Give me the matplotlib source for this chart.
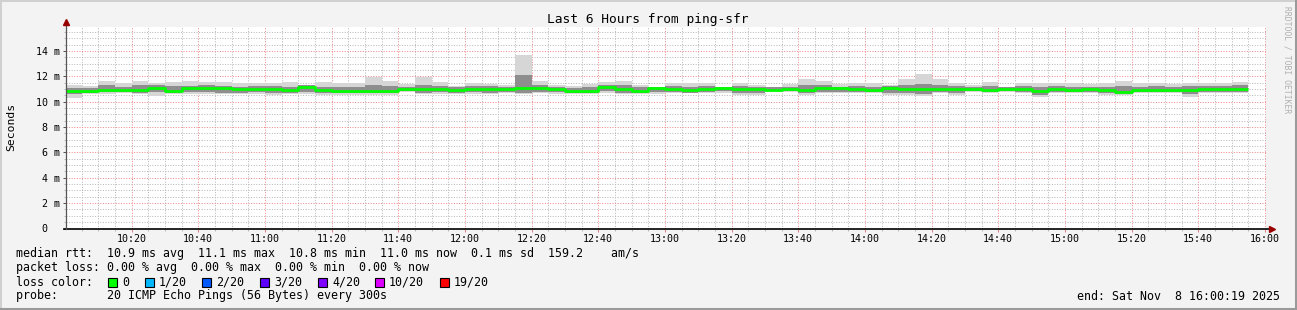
import matplotlib
matplotlib.use("Agg")
import matplotlib.pyplot as plt
from matplotlib.patches import Rectangle
from matplotlib.lines import Line2D

# 5-minute steps starting at 10:00 (minutes after 10:00), values in ms
median = [10.85, 10.85, 10.96, 10.96, 10.96, 11.06, 10.88, 11.06, 11.06, 11.06, 10.98, 10.98,
          10.98, 10.96, 11.17, 10.93, 10.88, 10.88, 10.88, 10.88, 11.03, 11.03, 11.03, 10.93,
          10.98, 10.98, 10.98, 11.06, 11.06, 10.98, 10.83, 10.88, 11.17, 11.04, 10.88, 11.06,
          11.03, 10.93, 10.98, 11.06, 10.98, 10.98, 10.93, 10.98, 10.90, 11.06, 11.06, 10.98,
          10.93, 11.09, 11.03, 11.03, 11.03, 11.03, 11.03, 10.93, 11.03, 10.98, 10.85, 11.03,
          10.93, 10.98, 10.93, 10.80, 10.93, 10.93, 10.93, 10.93, 11.03, 11.03, 11.03]
ping_max = [11.32, 11.25, 11.66, 11.46, 11.66, 11.50, 11.59, 11.62, 11.55, 11.55, 11.50, 11.50,
            11.50, 11.59, 11.33, 11.59, 11.50, 11.50, 11.93, 11.66, 11.40, 11.93, 11.59, 11.25,
            11.46, 11.40, 11.33, 13.70, 11.64, 11.33, 11.25, 11.40, 11.59, 11.64, 11.33, 11.19,
            11.46, 11.50, 11.50, 11.19, 11.52, 11.33, 11.19, 11.40, 11.78, 11.66, 11.40, 11.50,
            11.50, 11.33, 11.80, 12.19, 11.78, 11.50, 11.33, 11.59, 11.19, 11.50, 11.46, 11.50,
            11.50, 11.40, 11.46, 11.66, 11.46, 11.50, 11.40, 11.50, 11.50, 11.46, 11.59]
ping_min = [10.32, 10.59, 10.59, 10.67, 10.59, 10.46, 10.59, 10.59, 10.59, 10.59, 10.59, 10.59,
            10.54, 10.59, 10.59, 10.54, 10.54, 10.54, 10.54, 10.54, 10.80, 10.59, 10.59, 10.59,
            10.59, 10.59, 10.72, 10.59, 10.72, 10.65, 10.59, 10.59, 10.72, 10.59, 10.59, 10.59,
            10.67, 10.67, 10.67, 10.72, 10.54, 10.54, 10.80, 10.80, 10.54, 10.67, 10.67, 10.67,
            10.67, 10.54, 10.54, 10.47, 10.67, 10.54, 10.80, 10.67, 10.80, 10.67, 10.35, 10.67,
            10.67, 10.67, 10.54, 10.54, 10.67, 10.67, 10.67, 10.40, 10.72, 10.72, 10.72]
ping_q3 = [11.10, 11.10, 11.30, 11.20, 11.35, 11.30, 11.25, 11.25, 11.30, 11.25, 11.20, 11.25,
           11.25, 11.20, 11.30, 11.20, 11.15, 11.15, 11.30, 11.25, 11.20, 11.35, 11.25, 11.15,
           11.25, 11.25, 11.20, 12.10, 11.35, 11.15, 11.10, 11.20, 11.35, 11.30, 11.15, 11.15,
           11.25, 11.20, 11.25, 11.15, 11.25, 11.15, 11.15, 11.20, 11.30, 11.30, 11.20, 11.25,
           11.20, 11.25, 11.30, 11.40, 11.30, 11.25, 11.15, 11.25, 11.15, 11.25, 11.20, 11.25,
           11.20, 11.20, 11.20, 11.25, 11.20, 11.25, 11.20, 11.25, 11.25, 11.25, 11.30]
ping_q1 = [10.62, 10.70, 10.75, 10.75, 10.72, 10.75, 10.72, 10.75, 10.78, 10.72, 10.72, 10.75,
           10.70, 10.72, 10.75, 10.70, 10.70, 10.70, 10.68, 10.68, 10.88, 10.72, 10.75, 10.72,
           10.75, 10.72, 10.80, 10.70, 10.80, 10.75, 10.68, 10.70, 10.85, 10.72, 10.72, 10.75,
           10.75, 10.72, 10.75, 10.82, 10.70, 10.70, 10.85, 10.85, 10.70, 10.78, 10.78, 10.75,
           10.75, 10.70, 10.70, 10.65, 10.80, 10.70, 10.88, 10.75, 10.85, 10.75, 10.55, 10.80,
           10.75, 10.75, 10.70, 10.65, 10.75, 10.75, 10.75, 10.62, 10.80, 10.80, 10.80]

x_labels = ["10:20", "10:40", "11:00", "11:20", "11:40", "12:00", "12:20", "12:40", "13:00",
            "13:20", "13:40", "14:00", "14:20", "14:40", "15:00", "15:20", "15:40", "16:00"]
y_labels = ["0  ", "2 m", "4 m", "6 m", "8 m", "10 m", "12 m", "14 m"]

rtt_line = "median rtt:  10.9 ms avg  11.1 ms max  10.8 ms min  11.0 ms now  0.1 ms sd  159.2    am/s"
loss_line = "packet loss: 0.00 % avg  0.00 % max  0.00 % min  0.00 % now"
probe_line = "probe:       20 ICMP Echo Pings (56 Bytes) every 300s"
end_line = "end: Sat Nov  8 16:00:19 2025"
loss_labels = ["0", "1/20", "2/20", "3/20", "4/20", "10/20", "19/20"]
loss_colors = ["#00ff00", "#00b8ff", "#0059ff", "#5e00ff", "#7e00ff", "#dd00ff", "#ff0000"]

W, H = 1297, 310
MONO = "DejaVu Sans Mono"
FS = 8.35

fig = plt.figure(figsize=(W / 100, H / 100), dpi=100, facecolor="#f3f3f3")


def fx(px):
    return px / W


def fy(py):
    return 1 - py / H


ax = fig.add_axes([fx(66), fy(228.5), 1200 / W, 201.5 / H])
ax.set_facecolor("white")
ax.set_xlim(19 / 60, 360 + 19 / 60)
ax.set_ylim(0, 15.9)
for s in ax.spines.values():
    s.set_visible(False)

# grid (dotted, rrdtool style)
dot = (0, (1, 1.6))
ax.set_xticks([20 * (i + 1) for i in range(len(x_labels))])
ax.set_xticks([5 * i for i in range(1, 73)], minor=True)
ax.set_yticks([2 * i for i in range(len(y_labels))])
ax.set_yticks([0.5 * i for i in range(1, 32)], minor=True)
ax.set_axisbelow(True)
ax.grid(which="minor", color="#b8b8b8", linestyle=dot, linewidth=0.72)
ax.grid(which="major", color="#f08a8a", linestyle=dot, linewidth=0.72)

ax.set_xticklabels(x_labels, fontfamily=MONO, fontsize=7.2)
ax.set_yticklabels(y_labels, fontfamily=MONO, fontsize=7.2)
ax.tick_params(which="major", length=2.2, width=0.72, color="#e08080", pad=1.6)
ax.tick_params(which="minor", length=1.5, width=0.72, color="#bbbbbb")
ax.tick_params(axis="y", which="major", pad=2.4, color="#555555")

# smoke
starts = [5 * i for i in range(len(median))]
ax.bar(starts, [h - l for h, l in zip(ping_max, ping_min)], bottom=ping_min, width=5,
       align="edge", color="#d6d6d6", linewidth=0)
ax.bar(starts, [h - l for h, l in zip(ping_q3, ping_q1)], bottom=ping_q1, width=5,
       align="edge", color="#8e8e8e", linewidth=0)

# median line
ax.plot(starts + [starts[-1] + 5], median + [median[-1]], drawstyle="steps-post",
        color="#00ff00", linewidth=2.0, solid_capstyle="butt")

# axes lines with arrows
ax.plot([-2 / 1200, 1204 / 1200], [0, 0], transform=ax.transAxes, color="black",
        linewidth=1.2, clip_on=False)
ax.plot([0, 0], [0, 1.02], transform=ax.transAxes, color="#555555", linewidth=0.9, clip_on=False)
ax.plot(1206 / 1200, 0, transform=ax.transAxes, marker=">", color="#990000", markersize=4,
        clip_on=False)
ax.plot(0, 1.025, transform=ax.transAxes, marker="^", color="#990000", markersize=4,
        clip_on=False)

# title and labels
fig.text(fx(648), fy(19), "Last 6 Hours from ping-sfr", ha="center", va="center",
         fontfamily=MONO, fontsize=9.3)
fig.text(fx(11), fy(127), "Seconds", rotation=90, ha="center", va="center",
         fontfamily=MONO, fontsize=8.2)
fig.text(fx(1287), fy(60), "RRDTOOL / TOBI OETIKER", rotation=270, ha="center", va="center",
         fontfamily=MONO, fontsize=5.8, color="#b0b0b0")

# legend rows
fig.text(fx(16), fy(254), rtt_line, va="center", fontfamily=MONO, fontsize=FS)
fig.text(fx(16), fy(268), loss_line, va="center", fontfamily=MONO, fontsize=FS)

box_x = [108, 145, 202, 260, 318, 375, 440]
fig.text(fx(16), fy(282), "loss color:", va="center", fontfamily=MONO, fontsize=FS)
for x, t, c in zip(box_x, loss_labels, loss_colors):
    fig.add_artist(Rectangle((fx(x), fy(286.5)), 9 / W, 9 / H, transform=fig.transFigure,
                             facecolor=c, edgecolor="black", linewidth=0.8))
    fig.text(fx(x + 14), fy(282), t, va="center", fontfamily=MONO, fontsize=FS)

fig.text(fx(16), fy(296), probe_line, va="center", fontfamily=MONO, fontsize=FS)
fig.text(fx(1280), fy(296), end_line, ha="right", va="center", fontfamily=MONO, fontsize=FS)

# 3d-ish frame around the picture
fig.add_artist(Line2D([0, 1], [fy(0.5), fy(0.5)], transform=fig.transFigure, color="#d0d0d0", lw=1.4))
fig.add_artist(Line2D([fx(0.5), fx(0.5)], [0, 1], transform=fig.transFigure, color="#d0d0d0", lw=1.4))
fig.add_artist(Line2D([0, 1], [fy(308.5), fy(308.5)], transform=fig.transFigure, color="#9a9a9a", lw=2.2))
fig.add_artist(Line2D([fx(1295.5), fx(1295.5)], [0, 1], transform=fig.transFigure, color="#9a9a9a", lw=2.2))

fig.savefig("out.png", dpi=100, facecolor=fig.get_facecolor())
